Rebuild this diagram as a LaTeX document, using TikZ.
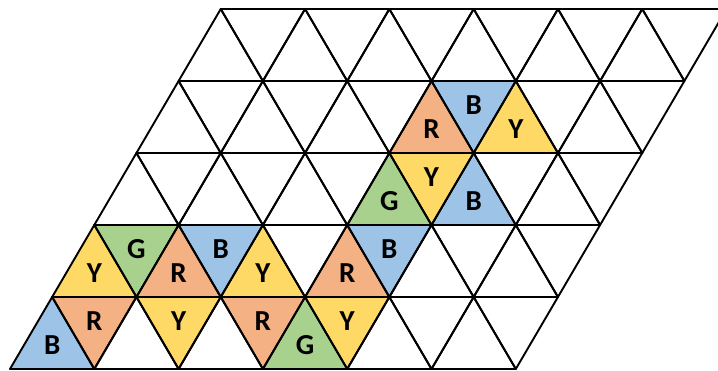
\documentclass[tikz,border=0pt]{standalone}
\usepackage{fontspec}
\setmainfont{Carlito}
\definecolor{cR}{HTML}{F4B183}
\definecolor{cB}{HTML}{9DC3E6}
\definecolor{cY}{HTML}{FFD966}
\definecolor{cG}{HTML}{A9D18E}
\def\S{84.3}
\def\H{72}
\newcommand\uptri[4]{%
  \pgfmathsetmacro\xa{10+42.15*#1+\S*#2}%
  \pgfmathsetmacro\yb{369-\H*#1}%
  \fill[#3] (\xa,\yb) -- ++(\S,0) -- ++(-\S/2,-\H) -- cycle;
  \node[lab] (u-#1-#2) at (\xa+\S/2,\yb-\H/3) {#4};
}
\newcommand\dntri[4]{%
  \pgfmathsetmacro\xa{10+42.15*#1+\S*#2+\S/2}%
  \pgfmathsetmacro\yt{369-\H*#1-\H}%
  \fill[#3] (\xa,\yt) -- ++(\S,0) -- ++(-\S/2,\H) -- cycle;
  \node[lab] (d-#1-#2) at (\xa+\S/2,\yt+\H/3) {#4};
}
\begin{document}
\begin{tikzpicture}[x=1pt,y=-1pt,
  lab/.style={font=\fontsize{29}{29}\selectfont\bfseries, inner sep=0pt},
  gridline/.style={line width=1.9pt, line join=round, black}]
\useasboundingbox (0,0) rectangle (718,371);
\clip (0,0) rectangle (718,371);
% row 0
\uptri{0}{0}{cB}{B}
\dntri{0}{0}{cR}{R}
\dntri{0}{1}{cY}{Y}
\dntri{0}{2}{cR}{R}
\uptri{0}{3}{cG}{G}
\dntri{0}{3}{cY}{Y}
% row 1
\uptri{1}{0}{cY}{Y}
\dntri{1}{0}{cG}{G}
\uptri{1}{1}{cR}{R}
\dntri{1}{1}{cB}{B}
\uptri{1}{2}{cY}{Y}
\uptri{1}{3}{cR}{R}
\dntri{1}{3}{cB}{B}
% row 2
\uptri{2}{3}{cG}{G}
\dntri{2}{3}{cY}{Y}
\uptri{2}{4}{cB}{B}
% row 3
\uptri{3}{3}{cR}{R}
\dntri{3}{3}{cB}{B}
\uptri{3}{4}{cY}{Y}
% grid
\foreach \r in {0,...,4}{
  \foreach \i in {0,...,5}{
    \pgfmathsetmacro\xa{10+42.15*\r+\S*\i}
    \pgfmathsetmacro\yb{369-\H*\r}
    \draw[gridline] (\xa,\yb) -- ++(\S,0) -- ++(-\S/2,-\H) -- cycle;
    \draw[gridline] (\xa+\S/2,\yb-\H) -- ++(\S,0) -- ++(-\S/2,\H) -- cycle;
  }
}
\end{tikzpicture}
\end{document}
